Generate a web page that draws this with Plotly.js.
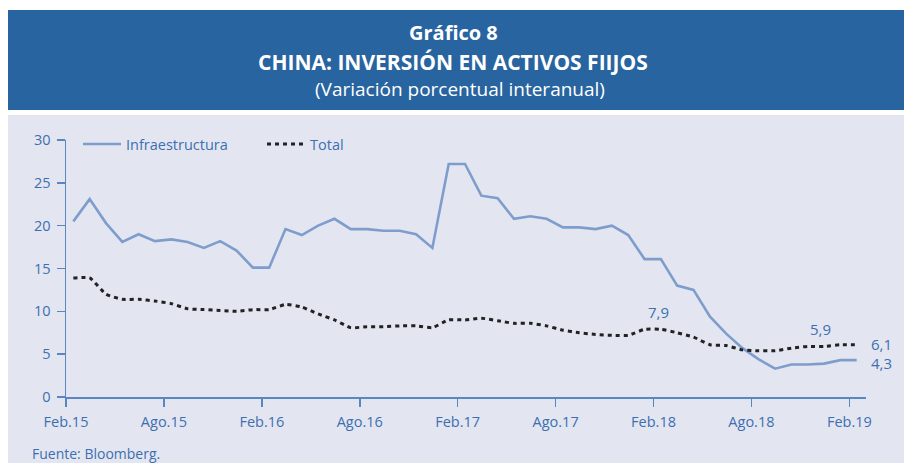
<!DOCTYPE html>
<html>
<head>
<meta charset="utf-8">
<script src="https://cdn.plot.ly/plotly-3.0.1.min.js"></script>
<style>
html,body{margin:0;padding:0;background:#fff;}
#chart{width:904px;height:463px;}
</style>
</head>
<body>
<div id="chart"></div>
<script>
// ---- data ----
var months = ["Feb.15","Mar.15","Abr.15","May.15","Jun.15","Jul.15","Ago.15","Set.15","Oct.15","Nov.15","Dic.15",
  "Ene.16","Feb.16","Mar.16","Abr.16","May.16","Jun.16","Jul.16","Ago.16","Set.16","Oct.16","Nov.16","Dic.16",
  "Ene.17","Feb.17","Mar.17","Abr.17","May.17","Jun.17","Jul.17","Ago.17","Set.17","Oct.17","Nov.17","Dic.17",
  "Ene.18","Feb.18","Mar.18","Abr.18","May.18","Jun.18","Jul.18","Ago.18","Set.18","Oct.18","Nov.18","Dic.18",
  "Ene.19","Feb.19"];
var infraestructura = [20.5,23.1,20.3,18.1,19.0,18.2,18.4,18.1,17.4,18.2,17.1,
  15.1,15.1,19.6,18.9,20.0,20.8,19.6,19.6,19.4,19.4,19.0,17.4,
  27.2,27.2,23.5,23.2,20.8,21.1,20.8,19.8,19.8,19.6,20.0,18.9,
  16.1,16.1,13.0,12.5,9.4,7.4,5.7,4.4,3.3,3.8,3.8,3.9,
  4.3,4.3];
var total = [13.9,13.9,12.0,11.4,11.4,11.2,10.9,10.3,10.2,10.1,10.0,
  10.2,10.2,10.8,10.5,9.7,9.0,8.1,8.2,8.2,8.3,8.3,8.1,
  9.0,9.0,9.2,8.9,8.6,8.6,8.3,7.8,7.5,7.3,7.2,7.2,
  7.9,7.9,7.5,7.0,6.1,6.0,5.5,5.4,5.4,5.7,5.9,5.9,
  6.1,6.1];
var tickLabels = ["Feb.15","Ago.15","Feb.16","Ago.16","Feb.17","Ago.17","Feb.18","Ago.18","Feb.19"];
var labelled = [{series:"total", month:"Feb.18"},{series:"total", month:"Dic.18"},
                {series:"total", month:"Feb.19"},{series:"infra", month:"Feb.19"}];

// ---- build ----
var idx = months.map(function(_, i){ return i; });
var tickvals = tickLabels.map(function(t){ return months.indexOf(t) - 0.45; });

var blue = '#3d6fb0';
var axisCol = '#5a86c2';
var fontFam = 'Open Sans, Noto Sans, sans-serif';

var traces = [
  {x: idx, y: infraestructura, name: 'Infraestructura', type: 'scatter', mode: 'lines',
   line: {color: '#7f9dcc', width: 2.6}, hoverinfo: 'skip'},
  {x: idx, y: total, name: 'Total', type: 'scatter', mode: 'lines',
   line: {color: '#222222', width: 3, dash: '4px,4px', shape: 'spline', smoothing: 0.5}, hoverinfo: 'skip'}
];

// paper coord helpers (plot area: x 66..866, y 140..397)
function px(v){ return (v - 66) / 800; }
function py(v){ return (397 - v) / 257; }

function fmt(v){ return v.toFixed(1).replace('.', ','); }

var annotations = [
  {xref:'paper', yref:'paper', x: px(453), y: py(33), text:'<b>Gráfico 8</b>', showarrow:false,
   font:{family:fontFam, size:20, color:'#ffffff'}, xanchor:'center', yanchor:'middle'},
  {xref:'paper', yref:'paper', x: px(453), y: py(62), text:'<b>CHINA: INVERSIÓN EN ACTIVOS FIIJOS</b>', showarrow:false,
   font:{family:fontFam, size:21, color:'#ffffff'}, xanchor:'center', yanchor:'middle'},
  {xref:'paper', yref:'paper', x: px(460), y: py(89), text:'(Variación porcentual interanual)', showarrow:false,
   font:{family:fontFam, size:19, color:'#ffffff'}, xanchor:'center', yanchor:'middle'},
  {xref:'paper', yref:'paper', x: px(30), y: py(453), text:'Fuente: Bloomberg.', showarrow:false,
   font:{family:fontFam, size:14, color:blue}, xanchor:'left', yanchor:'middle'}
];
var shifts = [{xs:-2, ys:17, xa:'center'}, {xs:-4, ys:17, xa:'center'}, {xs:12, ys:1, xa:'left'}, {xs:12, ys:-3, xa:'left'}];
labelled.forEach(function(l, k){
  var i = months.indexOf(l.month);
  var arr = l.series === 'total' ? total : infraestructura;
  annotations.push({x: i, y: arr[i], xref:'x', yref:'y', text: fmt(arr[i]), showarrow:false,
    xanchor: shifts[k].xa, yanchor:'middle', xshift: shifts[k].xs, yshift: shifts[k].ys,
    font:{family:fontFam, size:15, color:blue}});
});

var layout = {
  width: 904, height: 463,
  margin: {l:66, r:38, t:140, b:66, pad:0},
  paper_bgcolor: '#ffffff',
  plot_bgcolor: 'rgba(0,0,0,0)',
  font: {family: fontFam, color: blue, size: 14},
  showlegend: true,
  legend: {orientation:'h', x: px(78), y: py(144), xanchor:'left', yanchor:'middle',
           bgcolor:'rgba(0,0,0,0)', font:{family:fontFam, size:14.5, color:blue},
           itemwidth: 38, entrywidth: 131, entrywidthmode:'pixels', traceorder:'normal'},
  xaxis: {range:[-0.45, 48.57], tickmode:'array', tickvals: tickvals, ticktext: tickLabels,
          ticks:'outside', ticklen:8, tickwidth:1.5, tickcolor: axisCol, ticklabelstandoff: 3,
          showline:true, linecolor: axisCol, linewidth:1.5, showgrid:false, zeroline:false,
          tickfont:{family:fontFam, size:14.5, color:blue}, fixedrange:true},
  yaxis: {range:[0,30], dtick:5, tick0:0, ticks:'outside', ticklen:8, tickwidth:1.5, tickcolor: axisCol,
          ticklabelstandoff: 3,
          showline:true, linecolor: axisCol, linewidth:1.5, showgrid:false, zeroline:false,
          tickfont:{family:fontFam, size:14.5, color:blue}, fixedrange:true},
  shapes: [
    {type:'rect', xref:'paper', yref:'paper', x0: px(8), x1: px(904), y0: py(110), y1: py(10),
     fillcolor:'#28649f', line:{width:0}, layer:'below'},
    {type:'rect', xref:'paper', yref:'paper', x0: px(8), x1: px(904), y0: py(463), y1: py(115),
     fillcolor:'#e3e6f1', line:{width:0}, layer:'below'}
  ],
  annotations: annotations
};

Plotly.newPlot('chart', traces, layout, {displayModeBar:false, staticPlot:true});
</script>
</body>
</html>
